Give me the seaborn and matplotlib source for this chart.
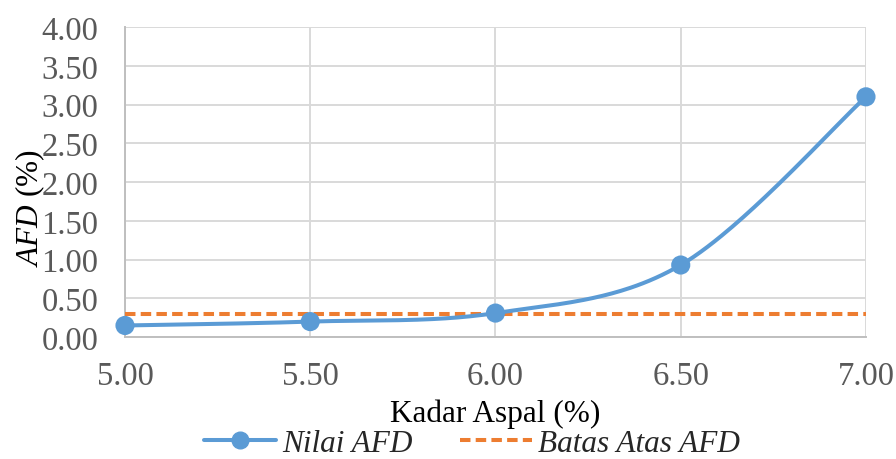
import numpy as np
import pandas as pd
import matplotlib
matplotlib.use("Agg")
import matplotlib.pyplot as plt
from matplotlib.lines import Line2D
import seaborn as sns

# Asphalt content vs. AFD values
kadar_aspal = [5.00, 5.50, 6.00, 6.50, 7.00]
nilai_afd = [0.15, 0.20, 0.31, 0.93, 3.10]
batas_atas_afd = 0.30
x_ticks = [5.00, 5.50, 6.00, 6.50, 7.00]
y_ticks = [0.00, 0.50, 1.00, 1.50, 2.00, 2.50, 3.00, 3.50, 4.00]

BLUE = "#5B9BD5"
ORANGE = "#ED7D31"
GRID = "#D9D9D9"
TICK = "#595959"
DASH = (2.6, 1.3)

sns.set_theme(style="white")
plt.rcParams["font.family"] = ["Liberation Serif", "DejaVu Serif"]
plt.rcParams["mathtext.fontset"] = "custom"
plt.rcParams["mathtext.it"] = "Liberation Serif:italic"
plt.rcParams["mathtext.rm"] = "Liberation Serif"


def smooth_curve(xs, ys, n=60):
    """Catmull-Rom style cubic Bezier smoothing through every point."""
    xs = np.asarray(xs, float)
    ys = np.asarray(ys, float)
    px = np.concatenate([[xs[0]], xs, [xs[-1]]])
    py = np.concatenate([[ys[0]], ys, [ys[-1]]])
    out_x, out_y = [], []
    for i in range(1, len(px) - 2):
        p0 = np.array([px[i - 1], py[i - 1]])
        p1 = np.array([px[i], py[i]])
        p2 = np.array([px[i + 1], py[i + 1]])
        p3 = np.array([px[i + 2], py[i + 2]])
        c1 = p1 + (p2 - p0) / 6.0
        c2 = p2 - (p3 - p1) / 6.0
        t = np.linspace(0, 1, n)[:, None]
        pts = ((1 - t) ** 3) * p1 + 3 * ((1 - t) ** 2) * t * c1 + 3 * (1 - t) * t ** 2 * c2 + t ** 3 * p2
        out_x.extend(pts[:, 0])
        out_y.extend(pts[:, 1])
    return np.array(out_x), np.array(out_y)


sx, sy = smooth_curve(kadar_aspal, nilai_afd)
curve = pd.DataFrame({"x": sx, "y": sy})
points = pd.DataFrame({"x": kadar_aspal, "y": nilai_afd})
limit = pd.DataFrame({"x": [kadar_aspal[0], kadar_aspal[-1]], "y": [batas_atas_afd] * 2})

fig = plt.figure(figsize=(8.96, 4.60), dpi=100)
ax = fig.add_axes([0.1395, 0.265, 0.827, 0.674])

sns.lineplot(data=limit, x="x", y="y", ax=ax, color=ORANGE, lw=2.9,
             estimator=None, zorder=3)
ax.lines[-1].set_dashes(DASH)
sns.lineplot(data=curve, x="x", y="y", ax=ax, color=BLUE, lw=2.9,
             estimator=None, sort=False, zorder=4)
sns.scatterplot(data=points, x="x", y="y", ax=ax, color=BLUE, s=190,
                edgecolor="none", zorder=5, clip_on=False)

ax.set_xlim(5.0, 7.0)
ax.set_ylim(0.0, 4.0)
ax.set_xticks(x_ticks)
ax.set_yticks(y_ticks)
ax.set_xticklabels([f"{v:.2f}" for v in x_ticks])
ax.set_yticklabels([f"{v:.2f}" for v in y_ticks])
ax.tick_params(axis="both", labelsize=23.5, colors=TICK, length=0)
ax.tick_params(axis="x", pad=17)
ax.tick_params(axis="y", pad=19)

ax.grid(True, color=GRID, lw=1.4)
ax.set_axisbelow(True)
for side in ["top", "right"]:
    ax.spines[side].set_visible(False)
for side in ["left", "bottom"]:
    ax.spines[side].set_color("#BFBFBF")
    ax.spines[side].set_linewidth(1.4)

ax.set_xlabel("Kadar Aspal (%)", fontsize=22.5, color="black")
ax.xaxis.set_label_coords(0.5, -0.197)
ax.set_ylabel(r"$\mathit{AFD}$ (%)", fontsize=22.5, color="black")
ax.yaxis.set_label_coords(-0.128, 0.42)
ax.yaxis.label.set_va("center")

handles = [
    Line2D([], [], color=BLUE, lw=2.9, marker="o", markersize=12, label="Nilai AFD"),
    Line2D([], [], color=ORANGE, lw=2.9, linestyle=(0, DASH), label="Batas Atas AFD"),
]
fig.legend(handles=handles, loc="center", bbox_to_anchor=(0.527, 0.033),
           ncol=2, frameon=False, handlelength=2.3, columnspacing=1.5,
           handletextpad=0.2, borderpad=0.0,
           prop={"family": "Liberation Serif", "style": "italic", "size": 22.5})

fig.savefig("out.png", dpi=100)
